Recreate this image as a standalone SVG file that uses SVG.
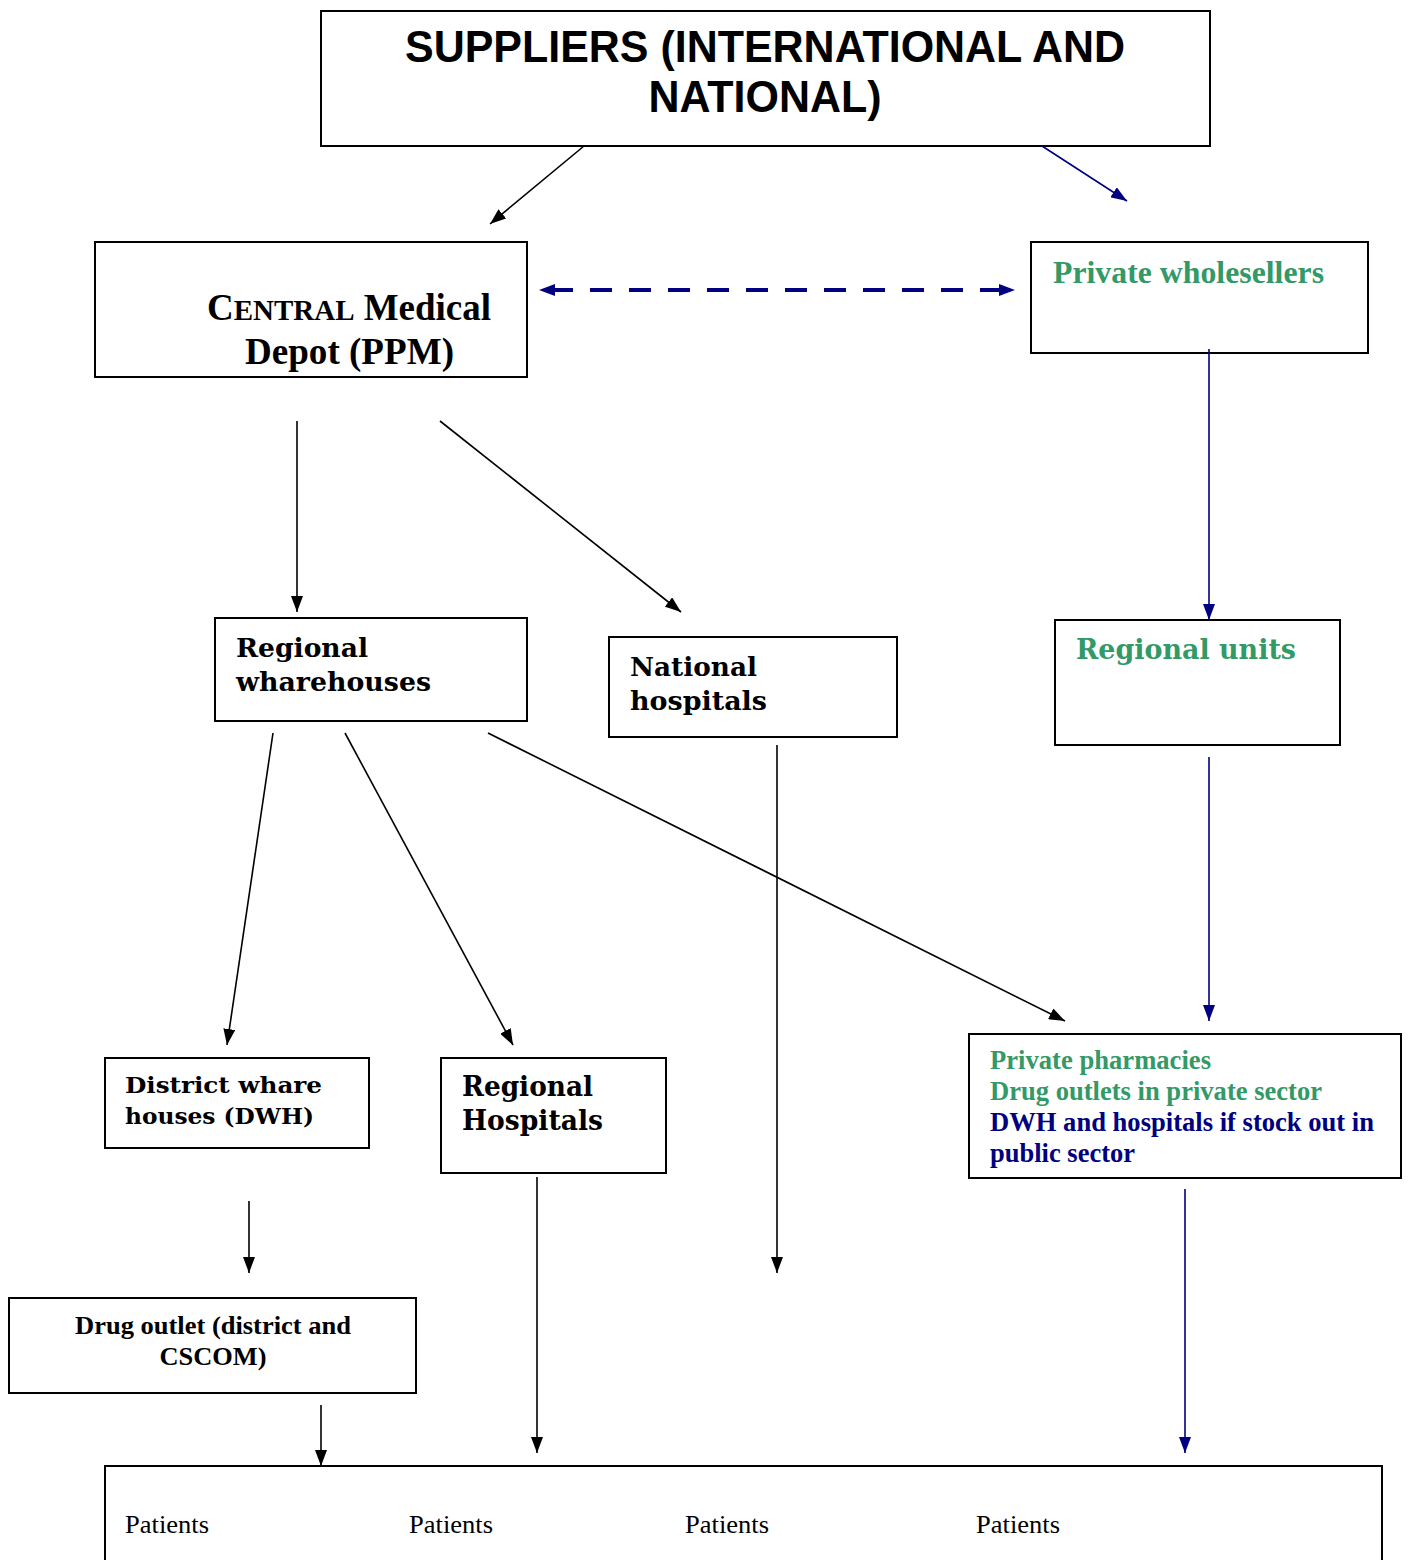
<svg xmlns="http://www.w3.org/2000/svg" width="1410" height="1560" viewBox="0 0 1410 1560">
<style>
.box{fill:#fff;stroke:#000;stroke-width:2}
.tsans{font-family:"Liberation Sans",Arial,sans-serif;font-weight:bold;fill:#000}
.tserif{font-family:"Liberation Serif","Times New Roman",serif;font-weight:bold;fill:#000}
.tslab{font-family:"DejaVu Serif",serif;font-weight:bold;fill:#000}
.green{fill:#339966}
.navy{fill:#000080}
.pat{font-family:"Liberation Serif","Times New Roman",serif;font-size:25px;fill:#000}
.blk{stroke:#000;stroke-width:1.6;fill:none;marker-end:url(#ab)}
.blu{stroke:#000080;stroke-width:1.6;fill:none;marker-end:url(#an)}
</style>
<defs>
<marker id="ab" markerUnits="userSpaceOnUse" markerWidth="16" markerHeight="12" refX="16" refY="6" orient="auto"><path d="M0,0 L16,6 L0,12 z" fill="#000"/></marker>
<marker id="an" markerUnits="userSpaceOnUse" markerWidth="16" markerHeight="12" refX="16" refY="6" orient="auto"><path d="M0,0 L16,6 L0,12 z" fill="#000080"/></marker>
<marker id="dn" markerUnits="userSpaceOnUse" markerWidth="16" markerHeight="12" refX="16" refY="6" orient="auto-start-reverse"><path d="M0,0 L16,6 L0,12 z" fill="#000080"/></marker>
</defs>
<rect width="1410" height="1560" fill="#fff"/>

<g id="suppliers">
<rect class="box" x="321" y="11" width="889" height="135"/>
<text class="tsans" font-size="44" x="765" y="62" text-anchor="middle" textLength="720" lengthAdjust="spacingAndGlyphs">SUPPLIERS (INTERNATIONAL AND</text>
<text class="tsans" font-size="44" x="765" y="112" text-anchor="middle" textLength="233" lengthAdjust="spacingAndGlyphs">NATIONAL)</text>
</g>

<g id="central">
<rect class="box" x="95" y="242" width="432" height="135"/>
<text class="tserif" font-size="37" x="207" y="320" textLength="284" lengthAdjust="spacingAndGlyphs">C<tspan font-size="29">ENTRAL</tspan> Medical</text>
<text class="tserif" font-size="37" x="245" y="364" textLength="209" lengthAdjust="spacingAndGlyphs">Depot (PPM)</text>
</g>

<g id="wholesellers">
<rect class="box" x="1031" y="242" width="337" height="111"/>
<text class="tserif green" font-size="32" x="1053" y="283" textLength="271" lengthAdjust="spacingAndGlyphs">Private wholesellers</text>
</g>

<g id="regional-warehouses">
<rect class="box" x="215" y="618" width="312" height="103"/>
<text class="tslab" font-size="26" x="236" y="657" textLength="132" lengthAdjust="spacingAndGlyphs">Regional</text>
<text class="tslab" font-size="26" x="236" y="691" textLength="195" lengthAdjust="spacingAndGlyphs">wharehouses</text>
</g>

<g id="national-hospitals">
<rect class="box" x="609" y="637" width="288" height="100"/>
<text class="tslab" font-size="26" x="630" y="676" textLength="127" lengthAdjust="spacingAndGlyphs">National</text>
<text class="tslab" font-size="26" x="630" y="710" textLength="137" lengthAdjust="spacingAndGlyphs">hospitals</text>
</g>

<g id="regional-units">
<rect class="box" x="1055" y="620" width="285" height="125"/>
<text class="tslab green" font-size="28" x="1076" y="659" textLength="220" lengthAdjust="spacingAndGlyphs">Regional units</text>
</g>

<g id="dwh">
<rect class="box" x="105" y="1058" width="264" height="90"/>
<text class="tslab" font-size="23" x="125" y="1093" textLength="197" lengthAdjust="spacingAndGlyphs">District whare</text>
<text class="tslab" font-size="23" x="125" y="1124" textLength="189" lengthAdjust="spacingAndGlyphs">houses (DWH)</text>
</g>

<g id="regional-hospitals">
<rect class="box" x="441" y="1058" width="225" height="115"/>
<text class="tslab" font-size="27" x="462" y="1096" textLength="131" lengthAdjust="spacingAndGlyphs">Regional</text>
<text class="tslab" font-size="27" x="462" y="1130" textLength="141" lengthAdjust="spacingAndGlyphs">Hospitals</text>
</g>

<g id="private-pharmacies">
<rect class="box" x="969" y="1034" width="432" height="144"/>
<text class="tserif green" font-size="26.5" x="990" y="1069" textLength="221" lengthAdjust="spacingAndGlyphs">Private pharmacies</text>
<text class="tserif green" font-size="26.5" x="990" y="1100" textLength="332" lengthAdjust="spacingAndGlyphs">Drug outlets in private sector</text>
<text class="tserif navy" font-size="26.5" x="990" y="1131" textLength="384" lengthAdjust="spacingAndGlyphs">DWH and hospitals if stock out in</text>
<text class="tserif navy" font-size="26.5" x="990" y="1162" textLength="145" lengthAdjust="spacingAndGlyphs">public sector</text>
</g>

<g id="drug-outlet">
<rect class="box" x="9" y="1298" width="407" height="95"/>
<text class="tserif" font-size="26" x="213" y="1334" text-anchor="middle" textLength="276" lengthAdjust="spacingAndGlyphs">Drug outlet (district and</text>
<text class="tserif" font-size="26" x="213" y="1365" text-anchor="middle" textLength="107" lengthAdjust="spacingAndGlyphs">CSCOM)</text>
</g>

<g id="patients">
<rect class="box" x="105" y="1466" width="1277" height="110"/>
<text class="pat" x="125" y="1533" textLength="84" lengthAdjust="spacingAndGlyphs">Patients</text>
<text class="pat" x="409" y="1533" textLength="84" lengthAdjust="spacingAndGlyphs">Patients</text>
<text class="pat" x="685" y="1533" textLength="84" lengthAdjust="spacingAndGlyphs">Patients</text>
<text class="pat" x="976" y="1533" textLength="84" lengthAdjust="spacingAndGlyphs">Patients</text>
</g>

<g id="connectors">
<line class="blk" x1="584" y1="146" x2="490" y2="224"/>
<line class="blu" x1="1042" y1="146" x2="1127" y2="201"/>
<line x1="539" y1="290" x2="1015" y2="290" stroke="#000080" stroke-width="4" stroke-dasharray="22 17" stroke-dashoffset="-12" marker-start="url(#dn)" marker-end="url(#dn)"/>
<line class="blk" x1="297" y1="421" x2="297" y2="612"/>
<line class="blk" x1="440" y1="421" x2="681" y2="612"/>
<line class="blu" x1="1209" y1="349" x2="1209" y2="620"/>
<line class="blk" x1="273" y1="733" x2="227" y2="1045"/>
<line class="blk" x1="345" y1="733" x2="513" y2="1045"/>
<line class="blk" x1="488" y1="733" x2="1065" y2="1021"/>
<line class="blk" x1="777" y1="745" x2="777" y2="1273"/>
<line class="blu" x1="1209" y1="757" x2="1209" y2="1021"/>
<line class="blk" x1="249" y1="1201" x2="249" y2="1273"/>
<line class="blk" x1="321" y1="1405" x2="321" y2="1466"/>
<line class="blk" x1="537" y1="1177" x2="537" y2="1453"/>
<line class="blu" x1="1185" y1="1189" x2="1185" y2="1453"/>
</g>
</svg>
